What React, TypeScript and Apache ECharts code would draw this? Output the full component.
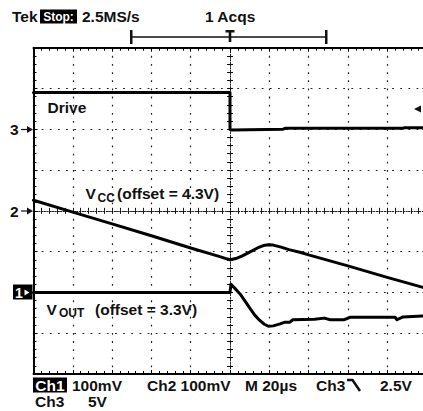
import React, { useEffect, useRef } from "react";
import * as echarts from "echarts";

// Time base: M 20µs/div, 10 divisions, trigger (T) at centre
const TIME_MIN = -100;
const TIME_MAX = 100;
const TIME_DIV = 20;
// Vertical graticule in divisions (8 div), centre = 0
const DIV_MIN = -4;
const DIV_MAX = 4;

// Ch3 "Drive": volts, 5 V/div, ground marker "3" at +2 div
const DRIVE_SCALE = 5;
const DRIVE_POS = 2;
const driveT = [-100, 0, 0, 1, 27, 28, 88, 89, 100];
const driveV = [4.5, 4.5, 0, -0.1, 0, 0.12, 0.12, 0.2, 0.2];

// Ch2 "VCC" (offset = 4.3V): mV, 100 mV/div, marker "2" at 0 div
const VCC_SCALE = 100;
const VCC_POS = 0;
const vccT = [-100, -80, -60, -40, -20, -6, -2, 0, 3, 6, 10, 14, 17, 19.5, 22, 26, 30, 36, 40, 60, 80, 100];
const vccMv = [26, -3, -32, -61, -91, -111, -117, -120, -117, -111, -101, -91, -85, -83, -84, -89, -95, -102, -108, -135, -163, -190];

// Ch1 "VOUT" (offset = 3.3V): mV, 100 mV/div, marker "1" at -2 div
const VOUT_SCALE = 100;
const VOUT_POS = -2;
const voutT = [-100, 0, 0.5, 2.5, 5, 7.5, 10, 12.5, 15, 17.5, 19.5, 22, 25.5, 28, 30.5, 32, 43, 48, 51, 58, 61, 84, 85, 88, 98, 100];
const voutMv = [0, 0, 20, 10, -3, -20, -38, -55, -68, -78, -83, -82, -77, -73, -73, -67, -66, -63, -67, -67, -61, -61, -67, -60, -58, -58];

const FONT = '"Liberation Sans", Arial, sans-serif';

function toDiv(ts: number[], vs: number[], scale: number, pos: number) {
  return ts.map((t, i) => [t, pos + vs[i] / scale]);
}

function txt(text: string, x: number, y: number, size = 15.5, fill = "#111", align = "left") {
  return {
    type: "text",
    x,
    y,
    z: 10,
    style: {
      text,
      fill,
      fontSize: size,
      fontWeight: "bold",
      fontFamily: FONT,
      align,
      verticalAlign: "middle",
    },
  };
}

export default function App() {
  const ref = useRef<HTMLDivElement>(null);
  useEffect(() => {
    if (!ref.current) return;
    document.body.style.overflow = "hidden";
    const chart = echarts.init(ref.current, undefined, { renderer: "svg" });

    const black = "#000";
    const xBase: any = {
      type: "value",
      min: TIME_MIN,
      max: TIME_MAX,
      interval: TIME_DIV,
      axisLabel: { show: false },
    };
    const yBase: any = {
      type: "value",
      min: DIV_MIN,
      max: DIV_MAX,
      interval: 1,
      axisLabel: { show: false },
    };
    const borderLine = { show: true, onZero: false, lineStyle: { color: black, width: 2 } };
    const borderTick = { show: true, inside: true, length: 4, lineStyle: { color: black, width: 1 } };
    const borderMinor = { show: true, splitNumber: 5, length: 3, lineStyle: { color: black, width: 1 } };
    const centreLine = { show: true, onZero: true, onZeroAxisIndex: 0, lineStyle: { color: "#222", width: 1, type: [1, 1.7] } };
    const centreMinor = { show: true, splitNumber: 5, length: 3, lineStyle: { color: "#111", width: 1 } };
    const centreTickOut = { show: true, inside: false, length: 3, lineStyle: { color: "#111" } };
    const centreTickIn = { show: true, inside: true, length: 3, lineStyle: { color: "#111" } };
    const grid = { left: 33.5, top: 47.7, width: 393, height: 326.3 };
    const dotted = { show: true, lineStyle: { color: "#222", width: 1.2, type: [1.8, 6.35] } };
    const noSplit = { show: false };

    const lineSeries = (name: string, data: number[][]) => ({
      name,
      type: "line",
      data,
      xAxisIndex: 0,
      yAxisIndex: 0,
      symbol: "none",
      showSymbol: false,
      smooth: false,
      lineStyle: { color: black, width: 3, join: "round", cap: "round" },
      z: 5,
    });

    const option: any = {
      animation: false,
      backgroundColor: "#fff",
      grid,
      xAxis: [
        { ...xBase, position: "bottom", axisLine: borderLine, axisTick: borderTick, minorTick: borderMinor, splitLine: dotted },
        { ...xBase, position: "top", axisLine: borderLine, axisTick: borderTick, minorTick: borderMinor, splitLine: noSplit },
        { ...xBase, position: "bottom", axisLine: centreLine, axisTick: centreTickOut, minorTick: centreMinor, splitLine: noSplit },
        { ...xBase, position: "bottom", axisLine: centreLine, axisTick: centreTickIn, minorTick: centreMinor, splitLine: noSplit },
      ],
      yAxis: [
        { ...yBase, position: "left", axisLine: borderLine, axisTick: borderTick, minorTick: borderMinor, splitLine: dotted },
        { ...yBase, position: "right", axisLine: borderLine, axisTick: borderTick, minorTick: borderMinor, splitLine: noSplit },
        { ...yBase, position: "left", axisLine: centreLine, axisTick: centreTickOut, minorTick: centreMinor, splitLine: noSplit },
        { ...yBase, position: "left", axisLine: centreLine, axisTick: centreTickIn, minorTick: centreMinor, splitLine: noSplit },
      ],
      series: [
        lineSeries("Drive", toDiv(driveT, driveV, DRIVE_SCALE, DRIVE_POS)),
        lineSeries("VCC", toDiv(vccT, vccMv, VCC_SCALE, VCC_POS)),
        lineSeries("VOUT", toDiv(voutT, voutMv, VOUT_SCALE, VOUT_POS)),
      ],
      graphic: [
        // header
        txt("Tek", 12, 16),
        { type: "rect", z: 9, shape: { x: 40, y: 9.5, width: 37, height: 14 }, style: { fill: "#000" } },
        txt("Stop:", 58.5, 16.5, 12, "#fff", "center"),
        txt("2.5MS/s", 82, 16),
        txt("1 Acqs", 205, 16),
        // horizontal position bracket
        { type: "line", z: 9, shape: { x1: 131, y1: 37, x2: 326, y2: 37 }, style: { stroke: "#111", lineWidth: 1.5 } },
        { type: "rect", z: 9, shape: { x: 130, y: 30, width: 2.5, height: 14 }, style: { fill: "#111" } },
        { type: "rect", z: 9, shape: { x: 325, y: 30, width: 2.5, height: 14 }, style: { fill: "#111" } },
        { type: "rect", z: 9, shape: { x: 225.5, y: 30, width: 9, height: 2.5 }, style: { fill: "#111" } },
        { type: "rect", z: 9, shape: { x: 228.7, y: 30, width: 2.6, height: 12 }, style: { fill: "#111" } },
        // channel ground markers
        txt("3", 10, 129.5),
        { type: "line", z: 9, shape: { x1: 21, y1: 129.5, x2: 28, y2: 129.5 }, style: { stroke: "#111", lineWidth: 1.2 } },
        { type: "polygon", z: 9, shape: { points: [[27, 126], [33, 129.5], [27, 133]] }, style: { fill: "#111" } },
        txt("2", 10, 211),
        { type: "line", z: 9, shape: { x1: 21, y1: 211, x2: 28, y2: 211 }, style: { stroke: "#111", lineWidth: 1.2 } },
        { type: "polygon", z: 9, shape: { points: [[27, 207.5], [33, 211], [27, 214.5]] }, style: { fill: "#111" } },
        { type: "rect", z: 9, shape: { x: 13, y: 284.5, width: 19.5, height: 15 }, style: { fill: "#000" } },
        txt("1", 15, 292.5, 14, "#fff"),
        { type: "polygon", z: 10, shape: { points: [[24.5, 289.5], [29.5, 292.5], [24.5, 295.5]] }, style: { fill: "#fff" } },
        // trigger level marker
        { type: "polygon", z: 9, shape: { points: [[414, 109], [421, 105.5], [421, 112.5]] }, style: { fill: "#111" } },
        // trace labels
        txt("Drive", 47.5, 107.5),
        txt("V", 85.5, 193.5),
        txt("CC", 97.5, 198, 12),
        txt("(offset = 4.3V)", 117, 193.5),
        txt("V", 46.5, 309),
        txt("OUT", 59, 312.5, 12),
        txt("(offset = 3.3V)", 95, 309.5),
        // bottom readout
        { type: "rect", z: 9, shape: { x: 33, y: 377.5, width: 34, height: 15 }, style: { fill: "#000" } },
        txt("Ch1", 50, 385, 15.5, "#fff", "center"),
        txt("100mV", 72, 385),
        txt("Ch2 100mV", 147, 385),
        txt("M 20µs", 245, 385),
        txt("Ch3", 316, 385),
        { type: "polyline", z: 9, shape: { points: [[347, 380], [352.5, 380], [360, 391]] }, style: { stroke: "#111", lineWidth: 2.5, fill: null } },
        txt("2.5V", 380, 385),
        txt("Ch3", 35, 401.5),
        txt("5V", 88, 401.5),
      ],
    };
    chart.setOption(option);
    return () => chart.dispose();
  }, []);

  return (
    <div
      ref={ref}
      style={{ position: "absolute", left: 0, top: 0, width: 432, height: 411, background: "#fff" }}
    />
  );
}
